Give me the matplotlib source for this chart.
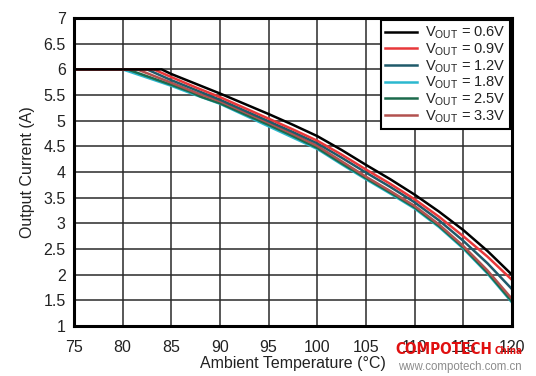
import matplotlib
matplotlib.use("Agg")
import matplotlib.pyplot as plt

plt.rcParams['font.family'] = ['Liberation Sans', 'DejaVu Sans']
plt.rcParams['mathtext.fontset'] = 'custom'
plt.rcParams['mathtext.rm'] = 'Liberation Sans'

# Data
temp_06 = [75, 84, 85, 87.5, 90, 92.5, 95, 97.5, 100, 102.5, 105, 107.5, 110, 112.5, 115, 117.5, 120]
cur_06 = [6.0, 6.0, 5.91, 5.72, 5.53, 5.33, 5.13, 4.92, 4.70, 4.43, 4.14, 3.86, 3.56, 3.23, 2.87, 2.46, 2.00]

temp_09 = [75, 83.2, 85, 87.5, 90, 92.5, 95, 97.5, 100, 102.5, 105, 107.5, 110, 112.5, 115, 117.5, 120]
cur_09 = [6.0, 6.0, 5.85, 5.65, 5.46, 5.25, 5.04, 4.83, 4.61, 4.34, 4.05, 3.77, 3.47, 3.13, 2.75, 2.35, 1.90]

temp_12 = [75, 82.5, 85, 87.5, 90, 92.5, 95, 97.5, 100, 102.5, 105, 107.5, 110, 112.5, 115, 117.5, 120]
cur_12 = [6.0, 6.0, 5.79, 5.60, 5.41, 5.20, 4.99, 4.78, 4.56, 4.28, 3.99, 3.71, 3.41, 3.06, 2.66, 2.22, 1.72]

temp_18 = [75, 80, 85, 87.5, 90, 92.5, 95, 97.5, 100, 102.5, 105, 107.5, 110, 112.5, 115, 117.5, 120]
cur_18 = [6.0, 6.0, 5.68, 5.50, 5.33, 5.11, 4.89, 4.67, 4.45, 4.15, 3.86, 3.58, 3.29, 2.93, 2.51, 2.02, 1.46]

temp_25 = [75, 80.5, 85, 87, 88, 90, 92.5, 95, 97.5, 100, 102.5, 105, 107.5, 110, 112.5, 115, 117.5, 120]
cur_25 = [6.0, 6.0, 5.70, 5.56, 5.47, 5.34, 5.13, 4.92, 4.70, 4.47, 4.17, 3.88, 3.60, 3.31, 2.95, 2.53, 2.04, 1.48]

temp_33 = [75, 81.5, 85, 87.5, 90, 92.5, 95, 97.5, 100, 102.5, 105, 107.5, 110, 112.5, 115, 117.5, 120]
cur_33 = [6.0, 6.0, 5.74, 5.55, 5.38, 5.17, 4.96, 4.74, 4.51, 4.21, 3.91, 3.63, 3.34, 2.98, 2.56, 2.08, 1.53]

series = [
    (temp_06, cur_06, "#000000", "0.6V", 8),
    (temp_09, cur_09, "#e8383a", "0.9V", 7),
    (temp_12, cur_12, "#1f5a6a", "1.2V", 6),
    (temp_18, cur_18, "#2bb8cf", "1.8V", 3),
    (temp_25, cur_25, "#1c6a4c", "2.5V", 4),
    (temp_33, cur_33, "#b2514f", "3.3V", 5),
]

xticks = [75, 80, 85, 90, 95, 100, 105, 110, 115, 120]
yticks = [1, 1.5, 2, 2.5, 3, 3.5, 4, 4.5, 5, 5.5, 6, 6.5, 7]
ytick_labels = ["1", "1.5", "2", "2.5", "3", "3.5", "4", "4.5", "5", "5.5", "6", "6.5", "7"]

fig = plt.figure(figsize=(5.36, 3.76), dpi=100)
ax = fig.add_axes([0.138, 0.133, 0.817, 0.819])

for t, c, col, lab, z in series:
    ax.plot(t, c, color=col, lw=1.8, label=r"V$_{\mathrm{OUT}}$ = " + lab, zorder=z,
            solid_joinstyle="round")

ax.set_xlim(75, 120)
ax.set_ylim(1, 7)
ax.set_xticks(xticks)
ax.set_xticklabels([str(x) for x in xticks])
ax.set_yticks(yticks)
ax.set_yticklabels(ytick_labels)
ax.grid(True, color="#2a2a2a", lw=1.1)
ax.tick_params(length=0, labelsize=11.5, colors="#222222")
ax.tick_params(axis="x", pad=10)
ax.tick_params(axis="y", pad=6)
for s in ax.spines.values():
    s.set_linewidth(2.2)
    s.set_color("black")
    s.set_zorder(10)

ax.set_xlabel("Ambient Temperature (°C)", fontsize=11.5, labelpad=1, color="#222222")
ax.set_ylabel("Output Current (A)", fontsize=11.5, labelpad=6, color="#222222")

leg = ax.legend(loc="upper right", fontsize=10.5, frameon=True, fancybox=False,
                borderpad=0.3, labelspacing=0.0, handlelength=2.2,
                handletextpad=0.5, borderaxespad=0.15)
leg.get_frame().set_edgecolor("black")
leg.get_frame().set_linewidth(1.5)
leg.get_frame().set_alpha(1)
leg.set_zorder(20)
for t in leg.get_texts():
    t.set_color("#222222")

# watermark
fig.text(0.738, 0.050, "COMPOTECH", color="#e01010", fontsize=11, fontweight="bold",
         family="DejaVu Sans", fontstretch="condensed", ha="left", va="bottom")
fig.text(0.922, 0.052, "China", color="#e01010", fontsize=7, fontweight="bold",
         family="DejaVu Sans", fontstretch="condensed", ha="left", va="bottom")
fig.text(0.742, 0.008, "www.compotech.com.cn", color="#8c8c8c", fontsize=8.3,
         ha="left", va="bottom")

fig.savefig("out.png", dpi=100)
